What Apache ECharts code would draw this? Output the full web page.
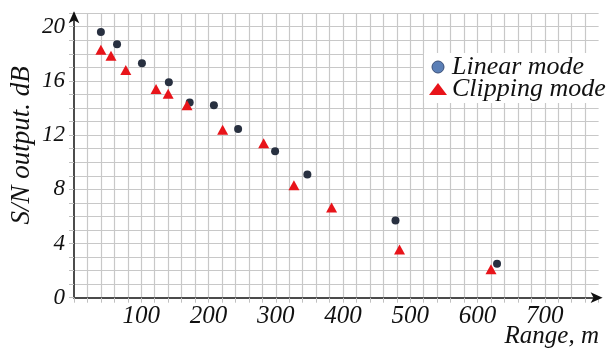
<!DOCTYPE html>
<html>
<head>
<meta charset="utf-8">
<script src="https://cdn.jsdelivr.net/npm/echarts@6/dist/echarts.min.js"></script>
<style>html,body{margin:0;padding:0;background:#fff;}#c{width:609px;height:351px;}</style>
</head>
<body>
<div id="c"></div>
<script>
// ---- data ----
const linearRange = [40, 64, 101, 141, 172, 208, 244, 299, 347, 478, 629];
const linearSN    = [19.6, 18.7, 17.3, 15.9, 14.4, 14.2, 12.45, 10.8, 9.1, 5.7, 2.5];
const clipRange   = [40, 55, 77, 122, 140, 168, 221, 282, 327, 383, 484, 620];
const clipSN      = [18.3, 17.85, 16.8, 15.4, 15.05, 14.2, 12.4, 11.4, 8.3, 6.65, 3.55, 2.1];
const xTickLabels = [100, 200, 300, 400, 500, 600, 700];
const yTickLabels = [0, 4, 8, 12, 16, 20];
const seriesNames = ['Linear mode', 'Clipping mode'];
const xAxisTitle = 'Range, m';
const yAxisTitle = 'S/N output. dB';

const serif = '"Liberation Serif", "DejaVu Serif", serif';
const chart = echarts.init(document.getElementById('c'), null, {renderer: 'canvas'});
chart.setOption({
  backgroundColor: '#fff',
  animation: false,
  title: {
    text: xAxisTitle, right: 10, top: 324, padding: 0,
    textStyle: {fontFamily: serif, fontStyle: 'italic', fontWeight: 'normal', fontSize: 25, color: '#111'}
  },
  grid: {left: 74, right: 10.4, top: 13.15, bottom: 53.3, containLabel: false, outerBoundsMode: 'none'},
  xAxis: {
    type: 'value', min: 0, max: 780, interval: 20,
    axisLine: {show: true, symbol: ['none', 'arrow'], symbolSize: [8, 12], symbolOffset: [0, 4],
      lineStyle: {color: '#111', width: 1.5}},
    axisTick: {show: true, length: 5, lineStyle: {color: '#c0c0c0', width: 1}},
    axisLabel: {fontFamily: serif, fontStyle: 'italic', fontSize: 25, color: '#111', margin: 6,
      formatter: v => xTickLabels.includes(v) ? String(v) : ''},
    splitLine: {show: true, showMinLine: false, showMaxLine: false, lineStyle: {color: '#c8c8c8', width: 1.2}}
  },
  yAxis: {
    type: 'value', min: 0, max: 21, interval: 1,
    name: yAxisTitle, nameLocation: 'middle', nameRotate: 90, nameGap: 39, nameMoveOverlap: false,
    nameTextStyle: {fontFamily: serif, fontStyle: 'italic', fontSize: 27, color: '#111', padding: [0, 0, 0, 20]},
    axisLine: {show: true, symbol: ['none', 'arrow'], symbolSize: [8, 12], symbolOffset: [0, 2],
      lineStyle: {color: '#111', width: 1.5}},
    axisTick: {show: true, length: 5, lineStyle: {color: '#c0c0c0', width: 1}},
    axisLabel: {fontFamily: serif, fontStyle: 'italic', fontSize: 23, color: '#111', margin: 9,
      formatter: v => yTickLabels.includes(v) ? String(v) : ''},
    splitLine: {show: true, showMinLine: false, lineStyle: {color: '#c8c8c8', width: 1.2}}
  },
  legend: {
    orient: 'vertical', left: 424, top: 53, padding: [1, 0, 1, 5], itemGap: -4,
    itemWidth: 18, itemHeight: 12, backgroundColor: '#fff',
    textStyle: {fontFamily: serif, fontStyle: 'italic', fontSize: 26, color: '#111'},
    data: [
      {name: seriesNames[0], icon: 'circle', itemStyle: {color: '#5b7fb6', borderColor: '#3a4f78', borderWidth: 1}},
      {name: seriesNames[1], icon: 'triangle', itemStyle: {color: '#e8141a'}}
    ]
  },
  series: [
    {name: seriesNames[0], type: 'scatter', symbol: 'circle', symbolSize: 8,
      itemStyle: {color: '#283040', opacity: 1},
      data: linearRange.map((x, i) => [x, linearSN[i]])},
    {name: seriesNames[1], type: 'scatter', symbol: 'triangle', symbolSize: [11, 10],
      itemStyle: {color: '#e8141a', opacity: 1},
      data: clipRange.map((x, i) => [x, clipSN[i]])}
  ]
});
</script>
</body>
</html>
